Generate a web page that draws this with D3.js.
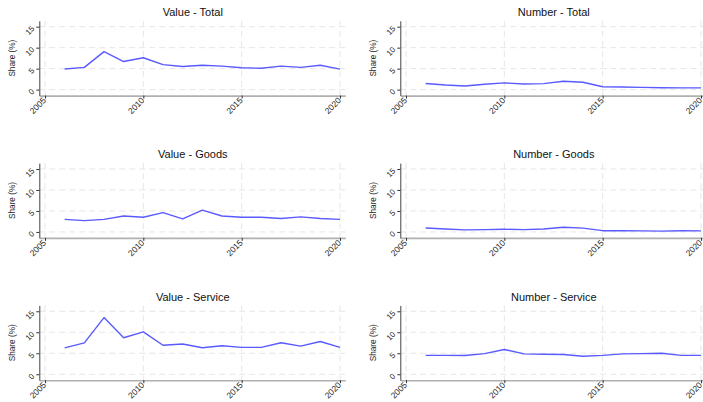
<!DOCTYPE html>
<html>
<head>
<meta charset="utf-8">
<script src="https://cdn.jsdelivr.net/npm/d3@7"></script>
<style>
  html, body { margin: 0; padding: 0; background: #fff; }
  svg { display: block; font-family: "Liberation Sans", Arial, Helvetica, sans-serif; }
</style>
</head>
<body>
<svg id="chart" width="703" height="402"></svg>
<script>
const years = [2006, 2007, 2008, 2009, 2010, 2011, 2012, 2013, 2014, 2015, 2016, 2017, 2018, 2019, 2020];
const valueTotal    = [4.9, 5.3, 9.05, 6.7, 7.6, 5.95, 5.5, 5.8, 5.6, 5.2, 5.1, 5.6, 5.3, 5.8, 4.9];
const numberTotal   = [1.45, 1.1, 0.87, 1.27, 1.6, 1.35, 1.43, 2.0, 1.75, 0.7, 0.63, 0.55, 0.45, 0.42, 0.42];
const valueGoods    = [3.0, 2.7, 3.0, 3.8, 3.5, 4.6, 3.1, 5.2, 3.8, 3.5, 3.5, 3.2, 3.6, 3.2, 3.0];
const numberGoods   = [0.95, 0.7, 0.5, 0.55, 0.65, 0.55, 0.7, 1.1, 0.9, 0.3, 0.3, 0.25, 0.2, 0.3, 0.25];
const valueService  = [6.27, 7.46, 13.5, 8.7, 10.1, 6.9, 7.2, 6.3, 6.8, 6.4, 6.4, 7.5, 6.7, 7.8, 6.4];
const numberService = [4.5, 4.5, 4.45, 4.9, 5.9, 4.85, 4.75, 4.7, 4.3, 4.5, 4.85, 4.9, 5.0, 4.5, 4.5];
const xTicks = [2005, 2010, 2015, 2020];
const yTicks = [0, 5, 10, 15];
const yTitle = "Share (%)";

const panels = [
  { title: "Value - Total",    values: valueTotal,    col: 0, row: 0 },
  { title: "Number - Total",   values: numberTotal,   col: 1, row: 0 },
  { title: "Value - Goods",    values: valueGoods,    col: 0, row: 1 },
  { title: "Number - Goods",   values: numberGoods,   col: 1, row: 1 },
  { title: "Value - Service",  values: valueService,  col: 0, row: 2 },
  { title: "Number - Service", values: numberService, col: 1, row: 2 }
];

const svg = d3.select("#chart");
const plotW = 306, plotH = 74.8;
const colStep = 361, rowStep = 142.3;
const left0 = 39.3, top0 = 20.8;
const lineColor = "#5a5aff";

const x = d3.scaleLinear().domain([2004.71, 2020.27]).range([0, plotW]);
const y = d3.scaleLinear().domain([-1.42, 16.4]).range([plotH, 0]);

panels.forEach(p => {
  const g = svg.append("g")
    .attr("transform", `translate(${left0 + p.col * colStep},${top0 + p.row * rowStep})`);

  // gridlines
  g.append("g").selectAll("line").data(yTicks).join("line")
    .attr("x1", 0).attr("x2", plotW)
    .attr("y1", d => y(d)).attr("y2", d => y(d))
    .attr("stroke", "#e6e6e6").attr("stroke-width", 1)
    .attr("stroke-dasharray", "6,4");
  g.append("g").selectAll("line").data(xTicks).join("line")
    .attr("x1", d => x(d)).attr("x2", d => x(d))
    .attr("y1", 0).attr("y2", plotH)
    .attr("stroke", "#e6e6e6").attr("stroke-width", 1)
    .attr("stroke-dasharray", "6,4");

  // x axis
  const xa = g.append("g").attr("transform", `translate(0,${plotH})`)
    .call(d3.axisBottom(x).tickValues(xTicks).tickFormat(d3.format("d")).tickSize(3).tickSizeOuter(0));
  xa.select(".domain").attr("stroke", "#b0b0b0").attr("stroke-width", 1.6);
  xa.selectAll(".tick line").attr("stroke", "#333");
  xa.selectAll(".tick text")
    .attr("fill", "#222").attr("font-size", 8.5)
    .attr("text-anchor", "end")
    .attr("x", 0).attr("y", 0).attr("dy", "0.35em")
    .attr("transform", "translate(-1,3.3) rotate(-45)");

  // y axis
  const ya = g.append("g")
    .call(d3.axisLeft(y).tickValues(yTicks).tickFormat(d3.format("d")).tickSize(3).tickSizeOuter(0));
  ya.select(".domain").attr("stroke", "#444").attr("stroke-width", 1);
  ya.selectAll(".tick line").attr("stroke", "#333");
  ya.selectAll(".tick text")
    .attr("fill", "#222").attr("font-size", 8)
    .attr("text-anchor", "end")
    .attr("x", 0).attr("dy", "0.35em")
    .attr("transform", "translate(-6.3,0) rotate(-45)");

  // y title
  g.append("text")
    .attr("transform", `translate(-27.5,${plotH / 2}) rotate(-90)`)
    .attr("text-anchor", "middle").attr("dy", "0.35em")
    .attr("font-size", 8.2).attr("fill", "#222")
    .text(yTitle);

  // title
  g.append("text")
    .attr("x", plotW / 2 + 0.5).attr("y", -8.5)
    .attr("text-anchor", "middle").attr("dy", "0.35em")
    .attr("font-size", 11).attr("fill", "#111")
    .text(p.title);

  // line
  const line = d3.line().x((d, i) => x(years[i])).y(d => y(d));
  g.append("path").datum(p.values)
    .attr("fill", "none").attr("stroke", lineColor)
    .attr("stroke-width", 1.4).attr("stroke-linejoin", "round")
    .attr("d", line);
});
</script>
</body>
</html>
